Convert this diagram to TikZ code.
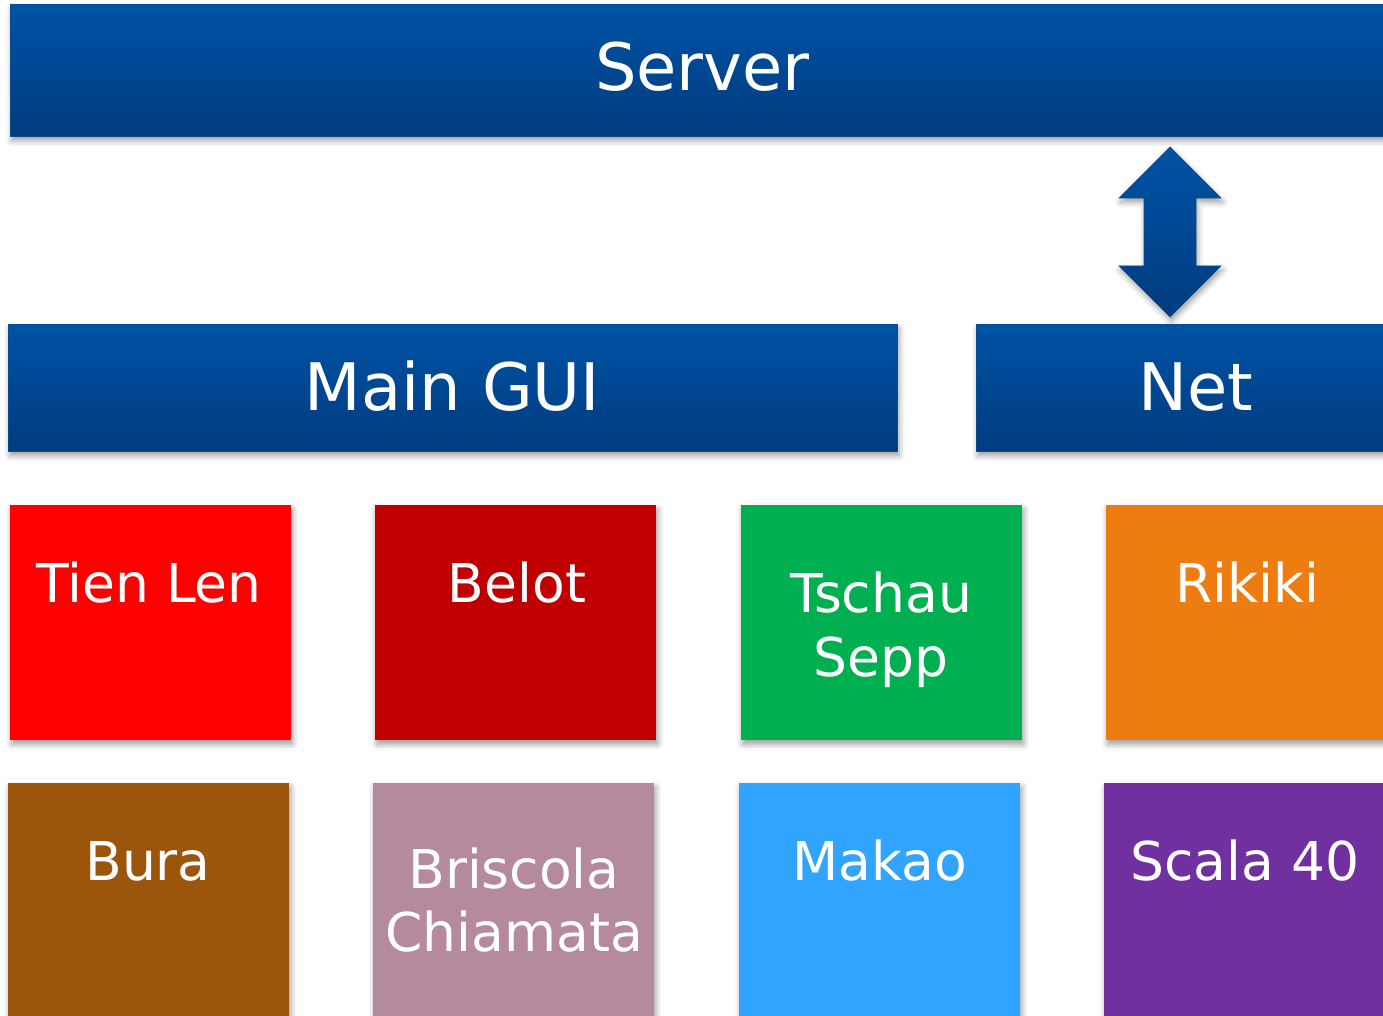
\documentclass[tikz,border=0pt]{standalone}
\usepackage{fontspec}
\setmainfont{DejaVu Sans}
\usetikzlibrary{shadows.blur}
\definecolor{blueT}{HTML}{0053A6}
\definecolor{blueB}{HTML}{003B7E}
\definecolor{blueE}{HTML}{0A4A90}
\definecolor{cTien}{HTML}{FF0000}
\definecolor{cBelot}{HTML}{C00000}
\definecolor{cTschau}{HTML}{00B050}
\definecolor{cRikiki}{HTML}{ED7D10}
\definecolor{cBura}{HTML}{9C560B}
\definecolor{cBriscola}{HTML}{B58A9E}
\definecolor{cMakao}{HTML}{31A4FF}
\definecolor{cScala}{HTML}{7030A0}
\tikzset{
  shd/.style={blur shadow={shadow xshift=1.5pt, shadow yshift=-4pt, shadow blur radius=6pt, shadow opacity=40}},
  bluebox/.style={rectangle, inner sep=0pt, top color=blueT, bottom color=blueB, draw=blueE, line width=1pt, shd},
  gamebox/.style={rectangle, inner sep=0pt, shd},
  bigtxt/.style={text=white, inner sep=0pt, anchor=base, font=\fontsize{65.5}{78}\selectfont},
  gtxt/.style={text=white, inner sep=0pt, anchor=base, font=\fontsize{53.5}{64}\selectfont},
}
\begin{document}
\begin{tikzpicture}[x=1pt,y=1pt]
\useasboundingbox (0,0) rectangle (1383,1016);
\clip (0,0) rectangle (1383,1016);
% blue bars
\node[bluebox, minimum width=1390pt, minimum height=132pt, anchor=south west] (server) at (10,879) {};
\node[bluebox, minimum width=889pt, minimum height=127pt, anchor=south west] (gui) at (8,564) {};
\node[bluebox, minimum width=440pt, minimum height=127pt, anchor=south west] (net) at (976,564) {};
\node[bigtxt] (servert) at (702.5,925) {Server};
\node[bigtxt] (guit) at (452.5,605) {Main GUI};
\node[bigtxt] (nett) at (1196,605) {Net};
% double arrow
\coordinate (atop) at (1170,869);
\coordinate (abot) at (1170,699);
\path[top color=blueT, bottom color=blueB, draw=blueE, line width=0.6pt, shd]
  (atop) -- (1221,818) -- (1196,818) -- (1196,750) -- (1221,750) -- (abot)
  -- (1119,750) -- (1144,750) -- (1144,818) -- (1119,818) -- cycle;
% row 1
\node[gamebox, fill=cTien, minimum width=281pt, minimum height=235pt, anchor=north west] (tien) at (10,511) {};
\node[gamebox, fill=cBelot, minimum width=281pt, minimum height=235pt, anchor=north west] (belot) at (375,511) {};
\node[gamebox, fill=cTschau, minimum width=281pt, minimum height=235pt, anchor=north west] (tschau) at (741,511) {};
\node[gamebox, fill=cRikiki, minimum width=300pt, minimum height=235pt, anchor=north west] (rikiki) at (1106,511) {};
% row 2
\node[gamebox, fill=cBura, minimum width=281pt, minimum height=260pt, anchor=north west] (bura) at (8,233) {};
\node[gamebox, fill=cBriscola, minimum width=281pt, minimum height=260pt, anchor=north west] (briscola) at (373,233) {};
\node[gamebox, fill=cMakao, minimum width=281pt, minimum height=260pt, anchor=north west] (makao) at (739,233) {};
\node[gamebox, fill=cScala, minimum width=300pt, minimum height=260pt, anchor=north west] (scala) at (1104,233) {};
% labels
\node[gtxt] (tient) at (149,413) {Tien Len};
\node[gtxt] (belott) at (517,413) {Belot};
\node[gtxt] (tschaut1) at (881,403) {Tschau};
\node[gtxt] (tschaut2) at (881,339) {Sepp};
\node[gtxt] (rikikit) at (1247,413) {Rikiki};
\node[gtxt] (burat) at (148,135) {Bura};
\node[gtxt] (briscolat1) at (514,127) {Briscola};
\node[gtxt] (briscolat2) at (514,64) {Chiamata};
\node[gtxt] (makaot) at (880,135) {Makao};
\node[gtxt] (scalat) at (1245,135) {Scala 40};
\end{tikzpicture}
\end{document}
